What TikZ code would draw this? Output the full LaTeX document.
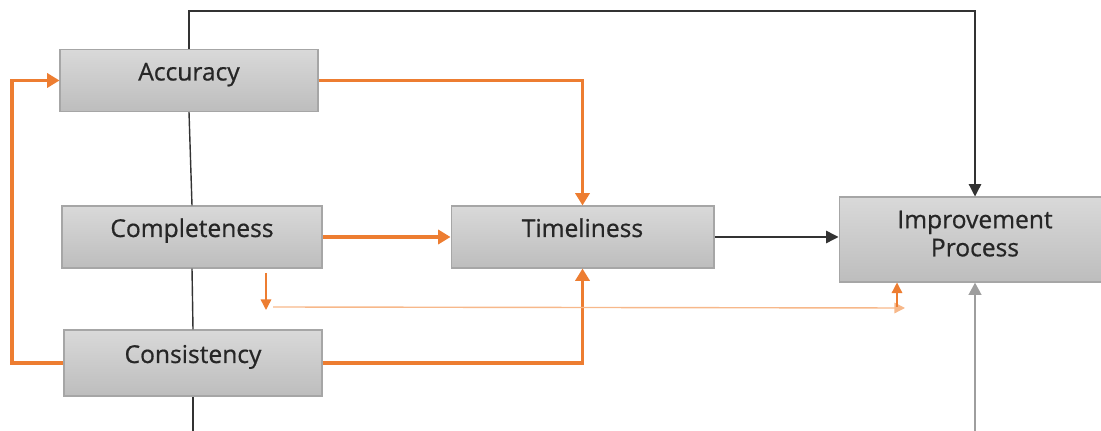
\documentclass[tikz,border=0pt]{standalone}
\usepackage{fontspec}
\setmainfont{Open Sans}
\newfontfamily\boxfont{Open Sans}[FakeBold=0.7]
\usetikzlibrary{arrows.meta}
\definecolor{boxtop}{HTML}{D9D9D9}
\definecolor{boxbot}{HTML}{BDBDBD}
\definecolor{boxline}{HTML}{A6A6A6}
\definecolor{txt}{HTML}{262626}
\definecolor{orng}{HTML}{ED7D31}
\definecolor{lorng}{HTML}{F7B88A}
\definecolor{gline}{HTML}{9E9E9E}

\begin{document}
\begin{tikzpicture}[x=0.02cm,y=-0.02cm]
\tikzstyle{qbox}=[draw=boxline, line width=0.6pt, top color=boxtop, bottom color=boxbot, inner xsep=0pt, inner ysep=0pt, text=txt, font=\boxfont\fontsize{14}{16}\selectfont]
\tikzstyle{qone}=[qbox, text height=0.62cm, text depth=0.62cm]
\tikzstyle{blkline}=[draw=black!80, line width=0.8pt]
\tikzstyle{blk}=[blkline, -{Triangle[length=7pt,width=7pt]}]
\tikzstyle{gry}=[draw=gline, line width=1.6pt, -{Triangle[length=7pt,width=7pt]}]
\tikzstyle{org}=[draw=orng, line width=1.8pt, -{Triangle[length=7pt,width=8pt]}]
\tikzstyle{thin}=[draw=orng, line width=0.8pt, -{Triangle[length=6pt,width=6pt]}]
\useasboundingbox (0,0) rectangle (1101,431);
\node[qone, minimum width=5.16cm] (acc) at (189,80.5) {Accuracy};
\node[qone, minimum width=5.2cm] (com) at (192,237) {Completeness};
\node[qone, minimum width=5.16cm, minimum height=1.32cm] (con) at (193,363) {Consistency};
\node[qone, minimum width=5.26cm] (tim) at (582.5,237) {Timeliness};
\node[qbox, minimum width=5.44cm, minimum height=1.7cm, align=center] (imp) at (975,239.5) {Improvement\\Process\rule[-0.24cm]{0pt}{0.24cm}};
\coordinate (topl) at (189,11);
\coordinate (conl) at (12,363);
\coordinate (bot1) at (193,431);
\coordinate (bot2) at (975,431);
\coordinate (fb1) at (266,273);
\coordinate (fb2) at (266,310);
\coordinate (fb3) at (273,307);
\coordinate (fb4) at (905,308);
\coordinate (fb5) at (897,307);
\draw[blk] (acc.north) -- (topl) -| (imp.north);
\draw[blkline] (acc.south) -- (com.north);
\draw[blkline] (com.south) -- (con.north);
\draw[blkline] (con.south) -- (bot1);
\draw[org] (acc.east) -| (tim.north);
\draw[org] (com.east) -- (tim.west);
\draw[org] (con.west) -- (conl) |- (acc.west);
\draw[org] (con.east) -| (tim.south);
\draw[blk] (tim.east) -- (tim.east -| imp.west);
\draw[gry] (bot2) -- (imp.south);
\draw[thin] (fb1) -- (fb2);
\draw[thin, draw=lorng] (fb3) -- (fb4);
\draw[thin] (fb5) -- (fb5 |- imp.south);
\end{tikzpicture}
\end{document}
